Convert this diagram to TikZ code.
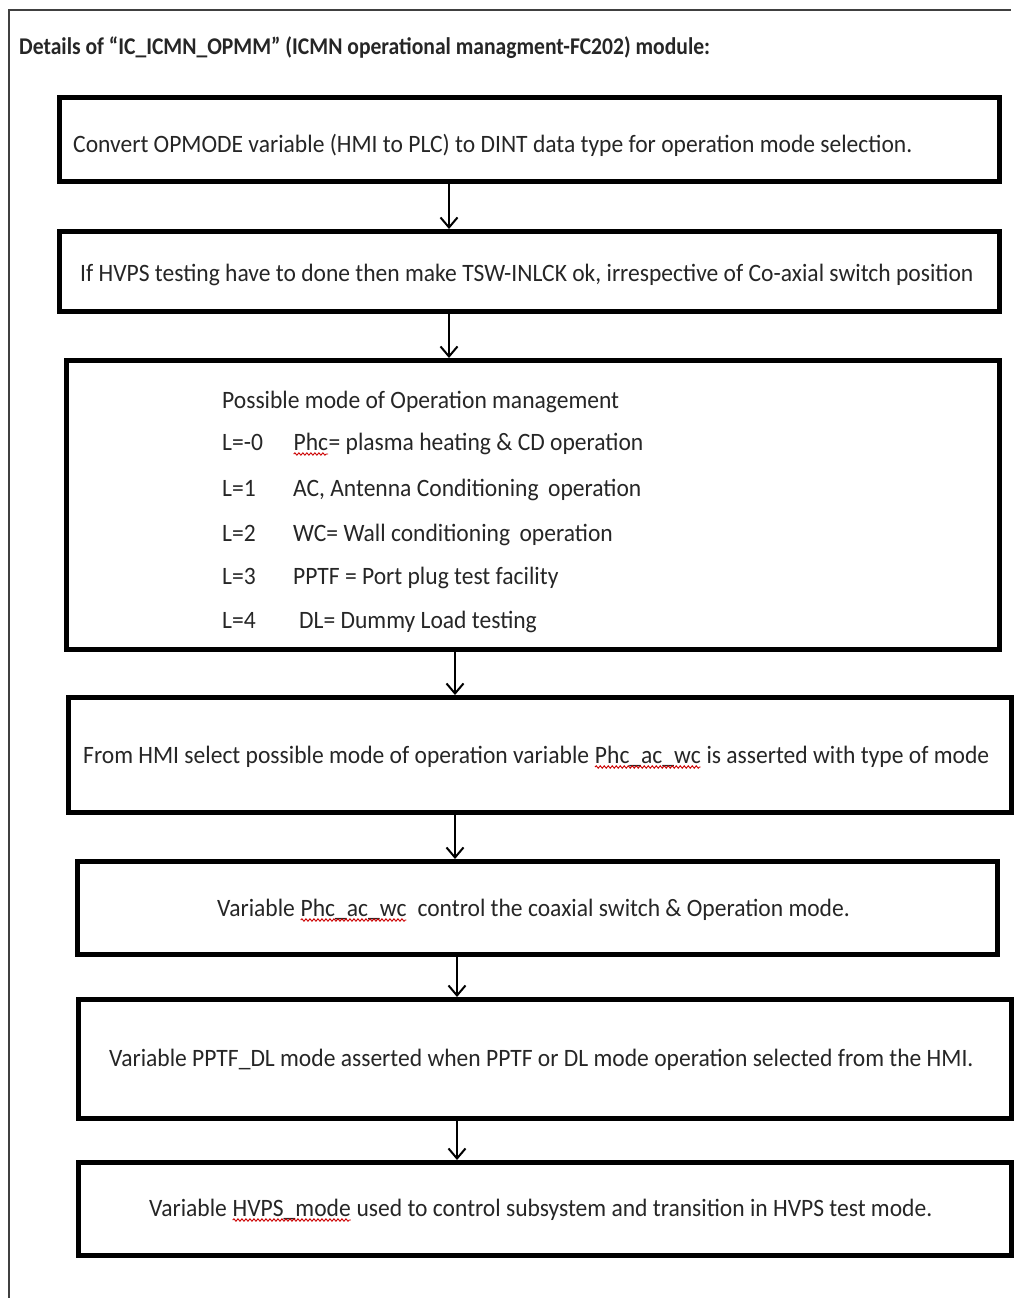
\documentclass[tikz,border=0pt]{standalone}
\usepackage{fontspec}
\setmainfont{Carlito}[FakeStretch=0.942]
\newfontfamily\headfont{Carlito}[FakeStretch=0.9]
\usetikzlibrary{arrows.meta,decorations.pathmorphing,calc}

\tikzset{
  stepbox/.style={draw=black, line width=4.5pt, fill=white, inner sep=0pt,
    anchor=north west},
  label/.style={inner sep=0pt, anchor=base west,
    font=\fontsize{25}{30}\selectfont, text=black!85},
  flow/.style={line width=2pt, -{Straight Barb[length=10pt,width=17pt,line width=2pt]}},
  spell/.style={draw=red!80!black, line width=0.9pt,
    decorate, decoration={snake, segment length=4pt, amplitude=1.2pt}},
}

% word with a red wavy underline
\newcommand{\wavyword}[1]{%
  \tikz[x=1pt,y=1pt,baseline=(w.base)]{%
    \node[inner sep=0pt, outer sep=0pt, anchor=base, text height=, text depth=] (w) {#1};
    \draw[spell] ([yshift=-4pt]w.base west) -- ([yshift=-4pt]w.base east);}}

\begin{document}
\begin{tikzpicture}[x=1pt,y=-1pt]
  \useasboundingbox (0,0) rectangle (1021,1298);
  \fill[white] (0,0) rectangle (1021,1298);

  % outer frame (left and top edges)
  \draw[line width=1.5pt, black!75] (9,1298) -- (9,10) -- (1011,10);

  % heading
  \node[label, font=\headfont\bfseries\fontsize{24}{28}\selectfont] (title) at (19,55)
    {Details of “IC\_ICMN\_OPMM” (ICMN operational managment-FC202) module:};

  % process boxes
  \node[stepbox, minimum width=940pt, minimum height=84pt] (b1) at (57,95) {};
  \node[stepbox, minimum width=940pt, minimum height=80pt] (b2) at (57,229) {};
  \node[stepbox, minimum width=933pt, minimum height=289pt] (b3) at (64,358) {};
  \node[stepbox, minimum width=943pt, minimum height=115pt] (b4) at (66,695) {};
  \node[stepbox, minimum width=920pt, minimum height=93pt] (b5) at (75,859) {};
  \node[stepbox, minimum width=933pt, minimum height=119pt] (b6) at (76,997) {};
  \node[stepbox, minimum width=933pt, minimum height=93pt] (b7) at (76,1160) {};

  % box texts
  \node[label] (t1) at (73,152)
    {Convert OPMODE variable (HMI to PLC) to DINT data type for operation mode selection.};
  \node[label] (t2) at (80,281)
    {If HVPS testing have to done then make TSW-INLCK ok, irrespective of Co-axial switch position};

  \node[label] (m0) at (222,408) {Possible mode of Operation management};
  \node[label] (l0) at (222,450) {L=-0};
  \node[label] (d0) at (293,450) {\wavyword{Phc}= plasma heating \& CD operation};
  \node[label] (l1) at (222,496) {L=1};
  \node[label] (d1) at (293,496) {AC, Antenna Conditioning\, operation};
  \node[label] (l2) at (222,541) {L=2};
  \node[label] (d2) at (293,541) {WC= Wall conditioning\, operation};
  \node[label] (l3) at (222,584) {L=3};
  \node[label] (d3) at (293,584) {PPTF = Port plug test facility};
  \node[label] (l4) at (222,628) {L=4};
  \node[label] (d4) at (299,628) {DL= Dummy Load testing};

  \node[label] (t4) at (83,763)
    {From HMI select possible mode of operation variable \wavyword{Phc\_ac\_wc} is asserted with type of mode};
  \node[label] (t5) at (217,916)
    {Variable \wavyword{Phc\_ac\_wc}\ \ control the coaxial switch \& Operation mode.};
  \node[label] (t6) at (109,1066)
    {Variable PPTF\_DL mode asserted when PPTF or DL mode operation selected from the HMI.};
  \node[label] (t7) at (149,1216)
    {Variable \wavyword{HVPS\_mode} used to control subsystem and transition in HVPS test mode.};

  % connector columns
  \coordinate (c1) at (449,0);
  \coordinate (c2) at (455,0);
  \coordinate (c3) at (457,0);

  \draw[flow] (b1.south -| c1) -- (b2.north -| c1);
  \draw[flow] (b2.south -| c1) -- (b3.north -| c1);
  \draw[flow] (b3.south -| c2) -- (b4.north -| c2);
  \draw[flow] (b4.south -| c2) -- (b5.north -| c2);
  \draw[flow] (b5.south -| c3) -- (b6.north -| c3);
  \draw[flow] (b6.south -| c3) -- (b7.north -| c3);
\end{tikzpicture}
\end{document}
